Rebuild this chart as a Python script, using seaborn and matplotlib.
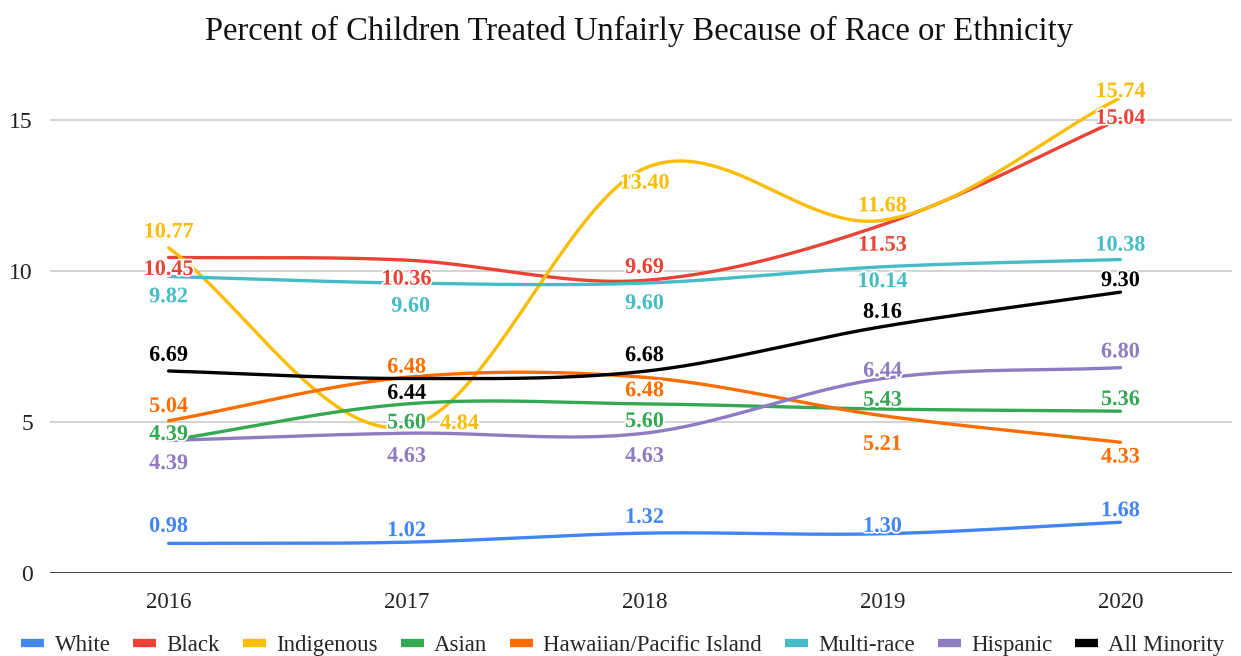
import numpy as np
import pandas as pd
import matplotlib
matplotlib.use("Agg")
import matplotlib.pyplot as plt
import matplotlib.patheffects as pe
from matplotlib.lines import Line2D
import seaborn as sns

# ---- data ----
years = [2016, 2017, 2018, 2019, 2020]
groups = ["White", "Black", "Indigenous", "Asian", "Hawaiian/Pacific Island",
          "Multi-race", "Hispanic", "All Minority"]
white = [0.98, 1.02, 1.32, 1.30, 1.68]
black = [10.45, 10.36, 9.69, 11.53, 15.04]
indigenous = [10.77, 4.84, 13.40, 11.68, 15.74]
asian = [4.39, 5.60, 5.60, 5.43, 5.36]
hawaiian = [5.04, 6.48, 6.48, 5.21, 4.33]
multi_race = [9.82, 9.60, 9.60, 10.14, 10.38]
hispanic = [4.39, 4.63, 4.63, 6.44, 6.80]
all_minority = [6.69, 6.44, 6.68, 8.16, 9.30]
series = [white, black, indigenous, asian, hawaiian, multi_race, hispanic, all_minority]

colors = ["#4285F4", "#EA4335", "#FBBC04", "#34A853", "#FF6D01",
          "#46BDC6", "#8E7CC3", "#000000"]

# label offsets in points (dx, dy) per series per year
label_off = {
    "White": [(0, 12), (0, 8), (0, 11), (0, 5), (0, 8)],
    "Black": [(0, -9), (0, -14), (0, 9), (0, -15), (0, 0)],
    "Indigenous": [(0, 11), (38, 2), (0, -11), (0, 10), (0, 4)],
    "Asian": [(0, 4), (0, -14), (0, -13), (0, 6), (0, 8)],
    "Hawaiian/Pacific Island": [(0, 10), (0, 7), (0, -10), (0, -21), (0, -11)],
    "Multi-race": [(0, -15), (3, -17), (0, -15), (0, -11), (0, 10)],
    "Hispanic": [(0, -17), (0, -17), (0, -17), (0, 5), (0, 11)],
    "All Minority": [(0, 11), (0, -11), (0, 11), (0, 10), (0, 8)],
}


def smooth(xs, ys, n=60):
    # cubic Hermite (Catmull-Rom style) through the points, like a smoothed sheet chart
    xs = np.asarray(xs, float)
    ys = np.asarray(ys, float)
    m = np.zeros_like(ys)
    m[1:-1] = (ys[2:] - ys[:-2]) / (xs[2:] - xs[:-2])
    m[0] = (ys[1] - ys[0]) / (xs[1] - xs[0])
    m[-1] = (ys[-1] - ys[-2]) / (xs[-1] - xs[-2])
    out_x, out_y = [], []
    for i in range(len(xs) - 1):
        h = xs[i + 1] - xs[i]
        t = np.linspace(0, 1, n, endpoint=(i == len(xs) - 2))
        h00 = 2 * t**3 - 3 * t**2 + 1
        h10 = t**3 - 2 * t**2 + t
        h01 = -2 * t**3 + 3 * t**2
        h11 = t**3 - t**2
        out_x.append(xs[i] + t * h)
        out_y.append(h00 * ys[i] + h10 * h * m[i] + h01 * ys[i + 1] + h11 * h * m[i + 1])
    return np.concatenate(out_x), np.concatenate(out_y)


rows = []
for g, vals in zip(groups, series):
    sx, sy = smooth(years, vals)
    rows.append(pd.DataFrame({"year": sx, "value": sy, "group": g}))
curves = pd.concat(rows, ignore_index=True)

sns.set_theme(style="white")
plt.rcParams["font.family"] = ["Liberation Serif", "DejaVu Serif"]

fig = plt.figure(figsize=(12.41, 6.56), dpi=100)
ax = fig.add_axes([0.040, 0.1265, 0.953, 0.7596])

for y in [5, 10, 15]:
    ax.axhline(y, color="#cccccc", lw=1.2, zorder=0)
ax.axhline(0, color="#333333", lw=1.3, zorder=1)

sns.lineplot(data=curves, x="year", y="value", hue="group", hue_order=groups,
             palette=colors, sort=False, estimator=None, lw=2.4, legend=False, ax=ax,
             zorder=2)

for g, vals, c in zip(groups, series, colors):
    for yr, v, (dx, dy) in zip(years, vals, label_off[g]):
        ax.annotate(f"{v:.2f}", (yr, v), xytext=(dx, dy), textcoords="offset points",
                    ha="center", va="center", fontsize=16, fontweight="bold", color=c,
                    zorder=5,
                    path_effects=[pe.withStroke(linewidth=2.5, foreground="white")])

ax.set_xlim(2015.5, 2020.47)
ax.set_ylim(0, 16.5)
ax.set_xticks(years)
ax.set_xticklabels([str(y) for y in years], fontsize=16.5)
ax.set_yticks([0, 5, 10, 15])
ax.set_yticklabels(["0", "5", "10", "15"], fontsize=17)
ax.tick_params(axis="x", length=0, pad=14, colors="#222222")
ax.tick_params(axis="y", length=0, pad=12, colors="#222222")
ax.set_xlabel("")
ax.set_ylabel("")
for s in ax.spines.values():
    s.set_visible(False)

fig.suptitle("Percent of Children Treated Unfairly Because of Race or Ethnicity",
             fontsize=23.5, x=0.515, y=0.975, color="#111111")

handles = [Line2D([0], [0], color=c, lw=6, solid_capstyle="butt") for c in colors]
fig.legend(handles, groups, loc="center", bbox_to_anchor=(0.502, 0.016), ncol=8,
           frameon=False, fontsize=16.5, handlelength=1.0, handletextpad=0.45,
           columnspacing=1.0)

fig.savefig("out.png", dpi=100)
